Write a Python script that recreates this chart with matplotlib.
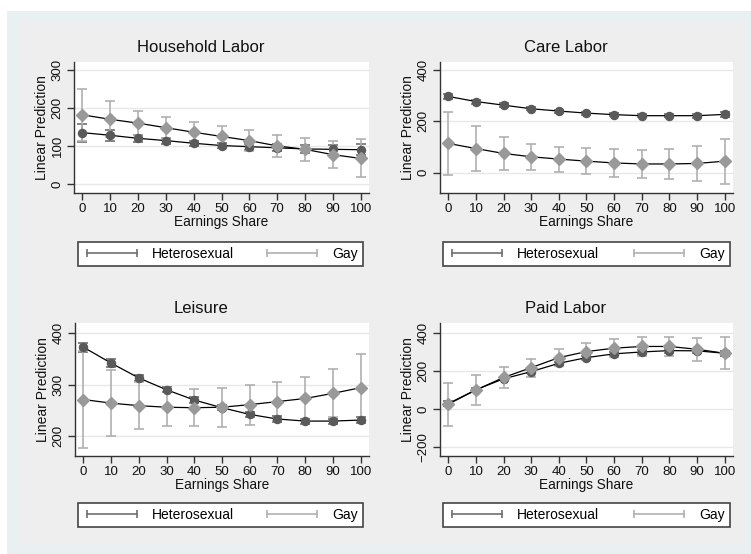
import numpy as np
import matplotlib
matplotlib.use("Agg")
import matplotlib.pyplot as plt
from matplotlib.lines import Line2D
from matplotlib.patches import Rectangle

plt.rcParams['font.family'] = ['Liberation Sans', 'DejaVu Sans']

share = [0, 10, 20, 30, 40, 50, 60, 70, 80, 90, 100]

# Household Labor
hh_het = [135, 128, 120, 114, 107, 101, 98, 95, 92, 91, 90]
hh_het_ci = [24, 14, 10, 8, 7, 7, 8, 9, 10, 12, 14]
hh_gay = [182, 170, 160, 148, 136, 125, 114, 100, 91, 77, 67]
hh_gay_ci = [68, 47, 32, 27, 26, 28, 28, 30, 30, 35, 50]

# Care Labor
care_het = [297, 277, 263, 249, 240, 232, 226, 222, 222, 222, 227]
care_het_ci = [10, 8, 7, 6, 6, 6, 6, 6, 7, 8, 9]
care_gay = [114, 94, 75, 62, 53, 45, 38, 34, 34, 36, 45]
care_gay_ci = [124, 86, 63, 50, 49, 50, 54, 55, 59, 68, 88]

# Leisure
leis_het = [373, 342, 313, 290, 270, 255, 242, 233, 229, 229, 231]
leis_het_ci = [9, 8, 6, 5, 5, 5, 5, 5, 5, 5, 6]
leis_gay = [271, 264, 259, 256, 255, 256, 261, 267, 273, 283, 294]
leis_gay_ci = [95, 65, 46, 37, 36, 38, 39, 38, 41, 47, 65]

# Paid Labor
paid_het = [28, 101, 159, 197, 241, 271, 291, 301, 308, 307, 294]
paid_het_ci = [14, 10, 8, 8, 8, 8, 8, 9, 10, 12, 14]
paid_gay = [25, 100, 166, 218, 271, 303, 321, 330, 330, 315, 294]
paid_gay_ci = [113, 80, 57, 48, 43, 47, 47, 50, 50, 60, 85]

titles = ["Household Labor", "Care Labor", "Leisure", "Paid Labor"]
het_all = [hh_het, care_het, leis_het, paid_het]
het_ci_all = [hh_het_ci, care_het_ci, leis_het_ci, paid_het_ci]
gay_all = [hh_gay, care_gay, leis_gay, paid_gay]
gay_ci_all = [hh_gay_ci, care_gay_ci, leis_gay_ci, paid_gay_ci]
yticks_all = [[0, 100, 200, 300], [0, 200, 400], [200, 300, 400], [-200, 0, 200, 400]]
ylims = [(-24, 321), (-79, 431), (161, 420), (-249, 454)]

W, H = 751, 554
fig = plt.figure(figsize=(W / 100, H / 100), dpi=100, facecolor='white')

# background regions
fig.patches.append(Rectangle((7 / W, 0), 1, 1 - 11 / H, transform=fig.transFigure,
                             facecolor='#e9f0f2', edgecolor='none', zorder=-3))
fig.patches.append(Rectangle((17 / W, 11 / H), (745 - 17) / W, (543 - 22) / H,
                             transform=fig.transFigure, facecolor='#eeeeee',
                             edgecolor='none', zorder=-2))

# axes boxes in pixels: left, top, right, bottom
boxes = [(74, 62, 369, 193), (440, 62, 733, 193), (75, 323, 369, 456), (440, 323, 733, 456)]
leg_boxes = [(78, 240, 363, 268), (443, 240, 730, 268), (78, 501, 363, 529), (443, 501, 730, 529)]

het_col = '#5a5a5a'
het_ci_col = '#707070'
gay_col = '#999999'
gay_ci_col = '#b0b0b0'

x = np.array(share)
for i in range(4):
    l, t, r, b = boxes[i]
    ax = fig.add_axes([l / W, 1 - b / H, (r - l) / W, (b - t) / H])
    ax.set_facecolor('white')
    for yt in yticks_all[i]:
        ax.axhline(yt, color='#e8e8e8', lw=1.0, zorder=0)

    ax.errorbar(x, het_all[i], yerr=het_ci_all[i], fmt='none', ecolor=het_ci_col,
                elinewidth=1.2, capsize=3.5, capthick=1.2, zorder=2)
    ax.errorbar(x, gay_all[i], yerr=gay_ci_all[i], fmt='none', ecolor=gay_ci_col,
                elinewidth=1.2, capsize=3.5, capthick=1.2, zorder=2)
    ax.plot(x, het_all[i], color='black', lw=0.9, marker='o', ms=5.8,
            mfc=het_col, mec=het_col, zorder=3)
    ax.plot(x, gay_all[i], color='black', lw=0.9, marker='D', ms=6.3,
            mfc=gay_col, mec=gay_col, zorder=3)

    ax.set_xlim(-3, 103)
    ax.set_ylim(*ylims[i])
    ax.set_xticks(share)
    ax.set_yticks(yticks_all[i])
    ax.tick_params(axis='both', labelsize=9.5, length=5, width=1, color='#333333',
                   labelcolor='#111111', pad=2.5)
    for lab in ax.get_yticklabels():
        lab.set_rotation(90)
        lab.set_va('center')
    for s in ['top', 'right']:
        ax.spines[s].set_visible(False)
    for s in ['left', 'bottom']:
        ax.spines[s].set_color('#333333')
        ax.spines[s].set_linewidth(1)
    ax.set_title(titles[i], fontsize=12, x=0.43, pad=7, color='#111111')
    ax.set_xlabel("Earnings Share", fontsize=9.8, labelpad=0, color='#111111')
    ax.set_ylabel("Linear Prediction", fontsize=10, labelpad=2, color='#111111')

    lb = leg_boxes[i]
    handles = [Line2D([], [], color=het_ci_col, lw=1.2, marker='|', ms=6, mew=1.2),
               Line2D([], [], color=gay_ci_col, lw=1.2, marker='|', ms=6, mew=1.2)]
    leg = ax.legend(handles, ["Heterosexual", "Gay"], loc='center', ncol=2, mode='expand',
                    bbox_to_anchor=(lb[0] / W, 1 - lb[3] / H, (lb[2] - lb[0]) / W,
                                    (lb[3] - lb[1]) / H),
                    bbox_transform=fig.transFigure, numpoints=2, handlelength=4.2,
                    handletextpad=0.8, fontsize=10, fancybox=False, framealpha=1,
                    borderaxespad=0, borderpad=0.35)
    leg.get_frame().set_edgecolor('#444444')
    leg.get_frame().set_linewidth(1.2)

fig.savefig("out.png", dpi=100, facecolor=fig.get_facecolor())
